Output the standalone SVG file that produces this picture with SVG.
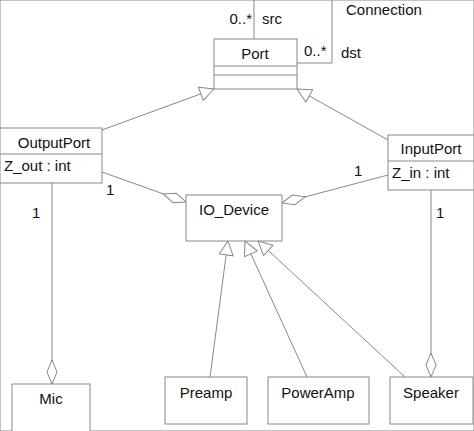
<svg xmlns="http://www.w3.org/2000/svg" width="474" height="431" viewBox="0 0 474 431">
<defs>
<marker id="gen" markerWidth="16" markerHeight="16" refX="15" refY="8" orient="auto" markerUnits="userSpaceOnUse"><path d="M1,1 L15,8 L1,15 Z" fill="#fff" stroke="#888"/></marker>
<marker id="agg" markerWidth="26" markerHeight="12" refX="25" refY="6" orient="auto" markerUnits="userSpaceOnUse"><path d="M1,6 L13,1 L25,6 L13,11 Z" fill="#fff" stroke="#888"/></marker>
</defs>
<style>
rect,line,polyline{fill:#fff;stroke:#888;stroke-width:1}
polyline{fill:none}
text{font-family:"Liberation Sans",Arial,sans-serif;font-size:15px;fill:#111}
.c{text-anchor:middle}
</style>
<rect width="474" height="431" fill="#fff" stroke="none"/>
<g id="connectors">
<polyline points="254,39 254,0"/>
<polyline points="297,63 332,63 332,0"/>
<line x1="102" y1="130" x2="214" y2="89" marker-end="url(#gen)"/>
<line x1="388" y1="140" x2="297" y2="89" marker-end="url(#gen)"/>
<line x1="102" y1="172" x2="186" y2="202" marker-end="url(#agg)"/>
<line x1="388" y1="175" x2="282" y2="203" marker-end="url(#agg)"/>
<line x1="52" y1="183" x2="52" y2="384" marker-end="url(#agg)"/>
<line x1="431" y1="190" x2="431" y2="377" marker-end="url(#agg)"/>
<line x1="210" y1="377" x2="228" y2="241" marker-end="url(#gen)"/>
<line x1="307" y1="377" x2="245" y2="241" marker-end="url(#gen)"/>
<line x1="405" y1="377" x2="258" y2="241" marker-end="url(#gen)"/>
<text x="252" y="24" text-anchor="end">0..*</text>
<text x="262" y="24">src</text>
<text x="304" y="56">0..*</text>
<text x="341" y="58">dst</text>
<text x="346" y="15">Connection</text>
<text x="106" y="195">1</text>
<text x="32" y="218">1</text>
<text x="354" y="176">1</text>
<text x="436" y="218">1</text>
</g>
<g id="Port"><rect x="214" y="39" width="83" height="50"/><line x1="214" y1="66" x2="297" y2="66"/><line x1="214" y1="75" x2="297" y2="75"/><text class="c" x="255" y="59">Port</text></g>
<g id="OutputPort"><rect x="0" y="128" width="102" height="55"/><line x1="0" y1="154" x2="102" y2="154"/><text class="c" x="54" y="148">OutputPort</text><text x="4" y="171">Z_out : int</text></g>
<g id="InputPort"><rect x="388" y="135" width="86" height="55"/><line x1="388" y1="161" x2="474" y2="161"/><text class="c" x="431" y="154">InputPort</text><text x="392" y="178">Z_in : int</text></g>
<g id="IO_Device"><rect x="186" y="195" width="96" height="46"/><text class="c" x="234" y="215">IO_Device</text></g>
<g id="Mic"><rect x="12" y="384" width="78" height="52"/><text class="c" x="51" y="404">Mic</text></g>
<g id="Preamp"><rect x="165" y="377" width="82" height="47"/><text class="c" x="206" y="398">Preamp</text></g>
<g id="PowerAmp"><rect x="268" y="377" width="101" height="47"/><text class="c" x="318" y="398">PowerAmp</text></g>
<g id="Speaker"><rect x="390" y="377" width="83" height="47"/><text class="c" x="431" y="398">Speaker</text></g>
</svg>
